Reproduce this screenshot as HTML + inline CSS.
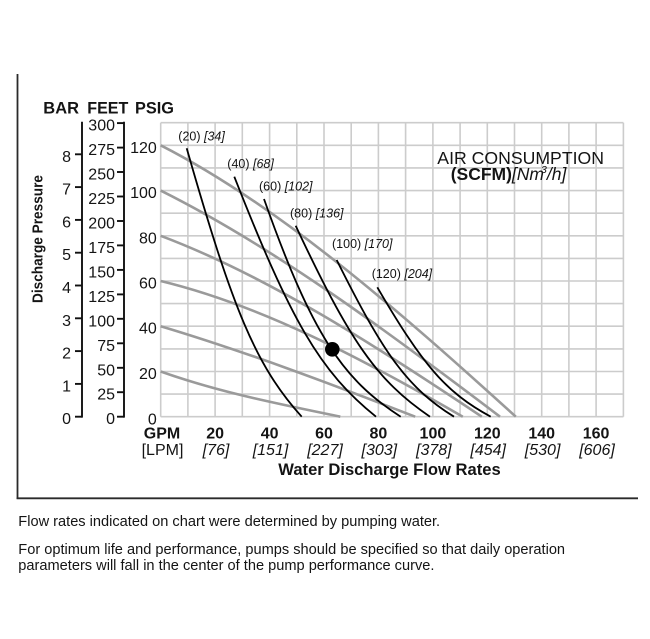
<!DOCTYPE html>
<html>
<head>
<meta charset="utf-8">
<style>
  html, body { margin: 0; padding: 0; background: #fff; }
  body { width: 650px; height: 639px; overflow: hidden; }
  svg { display: block; }
  text { font-family: "Liberation Sans", Arial, sans-serif; fill: #141414; }
</style>
</head>
<body>
<svg width="650" height="639" viewBox="0 0 650 639" xmlns="http://www.w3.org/2000/svg">
  <rect x="0" y="0" width="650" height="639" fill="#fff"/>

  <!-- frame -->
  <line x1="17.5" y1="74" x2="17.5" y2="499" stroke="#2a2a2a" stroke-width="1.8"/>
  <line x1="16.6" y1="498.3" x2="638" y2="498.3" stroke="#2a2a2a" stroke-width="1.8"/>

  <!-- grid -->
  <g stroke="#cccccc" stroke-width="1.6" fill="none">
    <line x1="160.7" y1="122.7" x2="160.7" y2="416.7"/>
    <line x1="187.9" y1="122.7" x2="187.9" y2="416.7"/>
    <line x1="215.1" y1="122.7" x2="215.1" y2="416.7"/>
    <line x1="242.3" y1="122.7" x2="242.3" y2="416.7"/>
    <line x1="269.6" y1="122.7" x2="269.6" y2="416.7"/>
    <line x1="296.8" y1="122.7" x2="296.8" y2="416.7"/>
    <line x1="324.0" y1="122.7" x2="324.0" y2="416.7"/>
    <line x1="351.2" y1="122.7" x2="351.2" y2="416.7"/>
    <line x1="378.4" y1="122.7" x2="378.4" y2="416.7"/>
    <line x1="405.6" y1="122.7" x2="405.6" y2="416.7"/>
    <line x1="432.9" y1="122.7" x2="432.9" y2="416.7"/>
    <line x1="460.1" y1="122.7" x2="460.1" y2="416.7"/>
    <line x1="487.3" y1="122.7" x2="487.3" y2="416.7"/>
    <line x1="514.5" y1="122.7" x2="514.5" y2="416.7"/>
    <line x1="541.7" y1="122.7" x2="541.7" y2="416.7"/>
    <line x1="568.9" y1="122.7" x2="568.9" y2="416.7"/>
    <line x1="596.1" y1="122.7" x2="596.1" y2="416.7"/>
    <line x1="623.4" y1="122.7" x2="623.4" y2="416.7"/>

    <line x1="160.7" y1="416.7" x2="623.4" y2="416.7"/>
    <line x1="160.7" y1="394.1" x2="623.4" y2="394.1"/>
    <line x1="160.7" y1="371.5" x2="623.4" y2="371.5"/>
    <line x1="160.7" y1="348.9" x2="623.4" y2="348.9"/>
    <line x1="160.7" y1="326.2" x2="623.4" y2="326.2"/>
    <line x1="160.7" y1="303.6" x2="623.4" y2="303.6"/>
    <line x1="160.7" y1="281.0" x2="623.4" y2="281.0"/>
    <line x1="160.7" y1="258.4" x2="623.4" y2="258.4"/>
    <line x1="160.7" y1="235.8" x2="623.4" y2="235.8"/>
    <line x1="160.7" y1="213.2" x2="623.4" y2="213.2"/>
    <line x1="160.7" y1="190.6" x2="623.4" y2="190.6"/>
    <line x1="160.7" y1="167.9" x2="623.4" y2="167.9"/>
    <line x1="160.7" y1="145.3" x2="623.4" y2="145.3"/>
    <line x1="160.7" y1="122.7" x2="623.4" y2="122.7"/>
  </g>

  <!-- gray head curves -->
  <g stroke="#9a9a9a" stroke-width="2.6" fill="none" stroke-linecap="butt">
    <path d="M160.7,371.5 C220.6,392.8 280.4,404.2 340.3,416.7"/>
    <path d="M160.7,326.2 C245.5,351.6 330.4,383.7 415.2,416.7"/>
    <path d="M160.7,281.0 C261.4,305.3 362.1,358.5 462.8,416.7"/>
    <path d="M160.7,235.8 C267.7,276.1 374.8,345.1 481.8,416.7"/>
    <path d="M160.7,190.6 C273.8,247.1 386.9,330.8 500,416.7"/>
    <path d="M160.7,145.3 C279.1,205.8 397.4,309.2 515.8,416.7"/>
  </g>

  <!-- black air consumption curves -->
  <g stroke="#000" stroke-width="1.8" fill="none">
    <path d="M186.7,148.3 C232.7,309.3 255.7,365.7 301.7,416.7"/>
    <path d="M234.3,176.7 C291.0,320.7 319.3,371.1 376,416.7"/>
    <path d="M264,199 C311.8,334 342.6,379.7 400.7,416.7"/>
    <path d="M295.7,225.7 C349.4,340.3 376.3,380.4 430,416.7"/>
    <path d="M336.7,260 C383.6,354 407.1,387.6 454,416.7"/>
    <path d="M377.3,287.3 C422.7,364.9 445.3,392.1 490.7,416.7"/>
  </g>

  <circle cx="332.3" cy="349.3" r="7.3" fill="#000"/>

  <!-- curve labels -->
  <g font-size="12.5">
    <text x="178.3" y="140.5">(20) <tspan font-style="italic">[34]</tspan></text>
    <text x="227.3" y="168">(40) <tspan font-style="italic">[68]</tspan></text>
    <text x="259" y="190.5">(60) <tspan font-style="italic">[102]</tspan></text>
    <text x="290" y="217.5">(80) <tspan font-style="italic">[136]</tspan></text>
    <text x="332" y="248">(100) <tspan font-style="italic">[170]</tspan></text>
    <text x="371.7" y="278">(120) <tspan font-style="italic">[204]</tspan></text>
  </g>

  <!-- Air consumption title -->
  <text x="437.3" y="164" font-size="17.5" textLength="166.7" lengthAdjust="spacingAndGlyphs">AIR CONSUMPTION</text>
  <text x="450.7" y="180" font-size="17.5"><tspan font-weight="bold">(SCFM)</tspan><tspan font-style="italic">[Nm</tspan><tspan font-style="italic" font-size="10.5" dx="-3" dy="-7">3</tspan><tspan font-style="italic" dy="7">/h]</tspan></text>

  <!-- header -->
  <g font-size="17" font-weight="bold">
    <text x="43.3" y="113.3" textLength="35.7" lengthAdjust="spacingAndGlyphs">BAR</text>
    <text x="87.3" y="113.3" textLength="41" lengthAdjust="spacingAndGlyphs">FEET</text>
    <text x="135" y="113.3" textLength="39" lengthAdjust="spacingAndGlyphs">PSIG</text>
  </g>

  <!-- axis lines -->
  <g stroke="#111" stroke-width="1.9" fill="none">
    <line x1="82" y1="121.8" x2="82" y2="417.6"/>
    <line x1="124" y1="121.8" x2="124" y2="417.6"/>
    <!-- BAR ticks -->
    <line x1="75" y1="416.7" x2="82" y2="416.7"/>
    <line x1="75" y1="383.9" x2="82" y2="383.9"/>
    <line x1="75" y1="351.1" x2="82" y2="351.1"/>
    <line x1="75" y1="318.3" x2="82" y2="318.3"/>
    <line x1="75" y1="285.5" x2="82" y2="285.5"/>
    <line x1="75" y1="252.7" x2="82" y2="252.7"/>
    <line x1="75" y1="219.9" x2="82" y2="219.9"/>
    <line x1="75" y1="187.1" x2="82" y2="187.1"/>
    <line x1="75" y1="154.3" x2="82" y2="154.3"/>
    <!-- FEET ticks -->
    <line x1="117" y1="416.7" x2="124" y2="416.7"/>
    <line x1="117" y1="392.2" x2="124" y2="392.2"/>
    <line x1="117" y1="367.8" x2="124" y2="367.8"/>
    <line x1="117" y1="343.3" x2="124" y2="343.3"/>
    <line x1="117" y1="318.8" x2="124" y2="318.8"/>
    <line x1="117" y1="294.4" x2="124" y2="294.4"/>
    <line x1="117" y1="269.9" x2="124" y2="269.9"/>
    <line x1="117" y1="245.4" x2="124" y2="245.4"/>
    <line x1="117" y1="221.0" x2="124" y2="221.0"/>
    <line x1="117" y1="196.5" x2="124" y2="196.5"/>
    <line x1="117" y1="172.0" x2="124" y2="172.0"/>
    <line x1="117" y1="147.6" x2="124" y2="147.6"/>
    <line x1="117" y1="123.1" x2="124" y2="123.1"/>
  </g>

  <!-- BAR labels -->
  <g font-size="16" text-anchor="end">
    <text x="71" y="424.2">0</text>
    <text x="71" y="391.4">1</text>
    <text x="71" y="358.6">2</text>
    <text x="71" y="325.8">3</text>
    <text x="71" y="293">4</text>
    <text x="71" y="260.2">5</text>
    <text x="71" y="227.4">6</text>
    <text x="71" y="194.6">7</text>
    <text x="71" y="161.8">8</text>
  </g>

  <!-- FEET labels -->
  <g font-size="16" text-anchor="end">
    <text x="115" y="424.2">0</text>
    <text x="115" y="399.7">25</text>
    <text x="115" y="375.3">50</text>
    <text x="115" y="350.8">75</text>
    <text x="115" y="326.3">100</text>
    <text x="115" y="301.9">125</text>
    <text x="115" y="277.4">150</text>
    <text x="115" y="252.9">175</text>
    <text x="115" y="228.5">200</text>
    <text x="115" y="204">225</text>
    <text x="115" y="179.5">250</text>
    <text x="115" y="155.1">275</text>
    <text x="115" y="130.6">300</text>
  </g>

  <!-- PSI labels -->
  <g font-size="16" text-anchor="end">
    <text x="156.8" y="424.6">0</text>
    <text x="156.8" y="379">20</text>
    <text x="156.8" y="333.7">40</text>
    <text x="156.8" y="288.5">60</text>
    <text x="156.8" y="243.3">80</text>
    <text x="156.8" y="198.1">100</text>
    <text x="156.8" y="152.8">120</text>
  </g>

  <!-- Y title -->
  <text transform="translate(42.4,239) rotate(-90)" text-anchor="middle" font-size="14.5" font-weight="bold" textLength="128" lengthAdjust="spacingAndGlyphs">Discharge Pressure</text>

  <!-- X axis labels -->
  <text x="162" y="438.5" font-size="16" font-weight="bold" text-anchor="middle">GPM</text>
  <text x="162.5" y="455" font-size="16" text-anchor="middle">[LPM]</text>
  <g font-size="16" font-weight="bold" text-anchor="middle">
    <text x="215.1" y="438.5">20</text>
    <text x="269.6" y="438.5">40</text>
    <text x="324.0" y="438.5">60</text>
    <text x="378.4" y="438.5">80</text>
    <text x="432.9" y="438.5">100</text>
    <text x="487.3" y="438.5">120</text>
    <text x="541.7" y="438.5">140</text>
    <text x="596.1" y="438.5">160</text>
  </g>
  <g font-size="16" font-style="italic" text-anchor="middle">
    <text x="216" y="455">[76]</text>
    <text x="270.5" y="455">[151]</text>
    <text x="325" y="455">[227]</text>
    <text x="379.3" y="455">[303]</text>
    <text x="433.8" y="455">[378]</text>
    <text x="488.2" y="455">[454]</text>
    <text x="542.6" y="455">[530]</text>
    <text x="597" y="455">[606]</text>
  </g>
  <text x="278.3" y="475" font-size="16.5" font-weight="bold" textLength="222.4" lengthAdjust="spacingAndGlyphs">Water Discharge Flow Rates</text>

  <!-- notes -->
  <g font-size="14.6" style="fill:#231f20">
    <text x="18.3" y="526">Flow rates indicated on chart were determined by pumping water.</text>
    <text x="18.3" y="554">For optimum life and performance, pumps should be specified so that daily operation</text>
    <text x="18.3" y="570">parameters will fall in the center of the pump performance curve.</text>
  </g>
</svg>
</body>
</html>
